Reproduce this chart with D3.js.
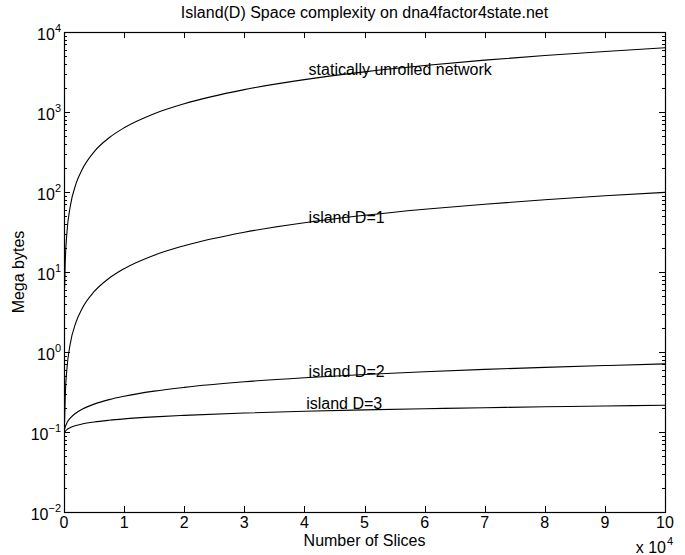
<!DOCTYPE html>
<html>
<head>
<meta charset="utf-8">
<script src="https://cdn.jsdelivr.net/npm/d3@7"></script>
<style>
  html, body { margin: 0; padding: 0; background: #fff; }
  svg text { font-family: "Liberation Sans", Arial, Helvetica, sans-serif; fill: #000; }
</style>
</head>
<body>
<svg id="chart" width="685" height="555"></svg>
<script>
// x in units of 10^4 slices
const slices = [0.01, 0.02, 0.05, 0.1, 0.2, 0.3, 0.5, 0.75, 1, 1.5, 2, 3, 4, 5, 6, 7, 8, 9, 10];
const staticNet = [6.35, 12.7, 31.8, 63.5, 127, 190, 318, 476, 635, 953, 1270, 1905, 2540, 3175, 3810, 4445, 5080, 5715, 6350];
const islandD1 = [0.135, 0.265, 0.63, 1.22, 2.36, 3.48, 5.67, 8.35, 11.0, 16.2, 21.3, 31.4, 41.3, 51.1, 60.8, 70.4, 80.0, 89.6, 99];
const islandD2 = [0.108, 0.115, 0.131, 0.148, 0.173, 0.192, 0.223, 0.254, 0.280, 0.324, 0.361, 0.424, 0.477, 0.524, 0.567, 0.606, 0.643, 0.677, 0.71];
const islandD3 = [0.098, 0.1014, 0.1073, 0.1132, 0.1205, 0.1256, 0.1332, 0.1401, 0.1457, 0.1545, 0.1615, 0.1726, 0.1815, 0.189, 0.1954, 0.2013, 0.2066, 0.2114, 0.216];
const seriesNames = ["statically unrolled network", "island D=1", "island D=2", "island D=3"];
const labelAt = [4.07, 4.07, 4.07, 4.03];      // x (10^4) where each curve label starts
const labelVal = [2890, 40.5, 0.491, 0.195];    // baseline level of each curve label
const xTicks = [0, 1, 2, 3, 4, 5, 6, 7, 8, 9, 10];
const yExponents = [-2, -1, 0, 1, 2, 3, 4];
const titleText = "Island(D) Space complexity on dna4factor4state.net";
const xLabel = "Number of Slices";
const yLabel = "Mega bytes";

const svg = d3.select("#chart");
const L = 64, R = 665, T = 32, B = 512;
const FS = 16;

const x = d3.scaleLinear().domain([0, 10]).range([L, R]);
const y = d3.scaleLog().domain([1e-2, 1e4]).range([B, T]);

// frame
svg.append("rect").attr("x", L + 0.5).attr("y", T + 0.5).attr("width", R - L).attr("height", B - T)
  .attr("fill", "none").attr("stroke", "#000").attr("stroke-width", 1.2);

// ticks (inside, all four sides)
const g = svg.append("g").attr("stroke", "#000").attr("stroke-width", 1);
xTicks.forEach(t => {
  const px = Math.round(x(t)) + 0.5;
  g.append("line").attr("x1", px).attr("x2", px).attr("y1", B).attr("y2", B - 6);
  g.append("line").attr("x1", px).attr("x2", px).attr("y1", T).attr("y2", T + 6);
});
for (let e = -2; e <= 4; e++) {
  const py = Math.round(y(Math.pow(10, e))) + 0.5;
  g.append("line").attr("x1", L).attr("x2", L + 6).attr("y1", py).attr("y2", py);
  g.append("line").attr("x1", R).attr("x2", R - 6).attr("y1", py).attr("y2", py);
  if (e < 4) {
    for (let m = 2; m <= 9; m++) {
      const pm = Math.round(y(m * Math.pow(10, e))) + 0.5;
      g.append("line").attr("x1", L).attr("x2", L + 3).attr("y1", pm).attr("y2", pm);
      g.append("line").attr("x1", R).attr("x2", R - 3).attr("y1", pm).attr("y2", pm);
    }
  }
}

// x tick labels
xTicks.forEach(t => {
  svg.append("text").attr("x", x(t)).attr("y", B + 16).attr("text-anchor", "middle")
    .attr("font-size", FS).text(t);
});
// y tick labels
yExponents.forEach(e => {
  const tx = svg.append("text").attr("x", L - 3).attr("y", y(Math.pow(10, e)) + 8)
    .attr("text-anchor", "end").attr("font-size", FS);
  tx.append("tspan").text("10");
  tx.append("tspan").attr("dy", -8).attr("font-size", 11).text(e < 0 ? "\u2212" + (-e) : e);
});
// x 10^4 multiplier
svg.append("text").attr("x", R + 1).attr("y", B + 41).attr("text-anchor", "end")
  .attr("font-size", FS).text("x 10");
svg.append("text").attr("x", R + 2).attr("y", B + 33).attr("font-size", 11).text("4");

// axis labels
svg.append("text").attr("x", (L + R) / 2).attr("y", B + 34).attr("text-anchor", "middle")
  .attr("font-size", FS).text(xLabel);
svg.append("text").attr("transform", `translate(24,${(T + B) / 2}) rotate(-90)`)
  .attr("text-anchor", "middle").attr("font-size", FS).text(yLabel);
svg.append("text").attr("x", (L + R) / 2).attr("y", 18).attr("text-anchor", "middle")
  .attr("font-size", FS).text(titleText);

// curves
const allSeries = [staticNet, islandD1, islandD2, islandD3];
const line = d3.line().x(d => x(d[0])).y(d => y(d[1])).curve(d3.curveMonotoneX);
allSeries.forEach(vals => {
  svg.append("path").datum(slices.map((s, i) => [s, vals[i]]))
    .attr("d", line).attr("fill", "none").attr("stroke", "#000").attr("stroke-width", 1.1);
});

// curve labels
seriesNames.forEach((n, i) => {
  svg.append("text").attr("x", x(labelAt[i])).attr("y", y(labelVal[i]))
    .attr("font-size", FS).text(n);
});
</script>
</body>
</html>
